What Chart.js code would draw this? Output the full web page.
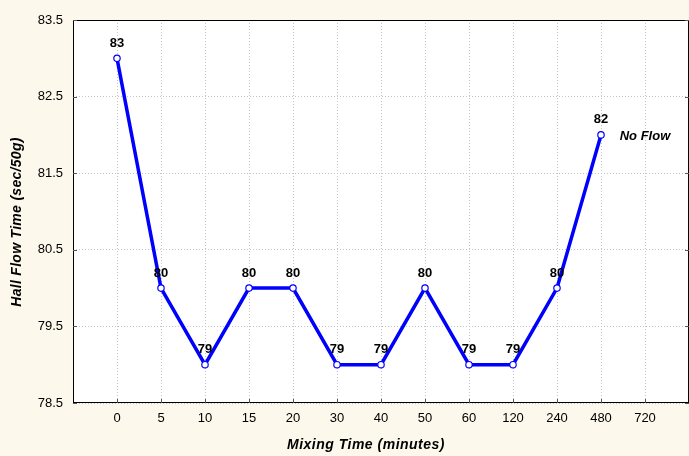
<!DOCTYPE html>
<html lang="en">
<head>
    <meta charset="UTF-8">
    <title>Hall Flow Time</title>
    <script src="https://cdn.jsdelivr.net/npm/chart.js@4"></script>
    <style>
        html, body {
            margin: 0;
            padding: 0;
            background: #fdf8ec;
        }
        #wrap {
            width: 689px;
            height: 456px;
        }
    </style>
</head>
<body>
    <div id="wrap"><canvas id="myChart"></canvas></div>

    <script>
        // chart values
        const categories = ['0', '5', '10', '15', '20', '30', '40', '50', '60', '120', '240', '480', '720'];
        const flowTimes = [83, 80, 79, 80, 80, 79, 79, 80, 79, 79, 80, 82];
        const yTicks = [78.5, 79.5, 80.5, 81.5, 82.5, 83.5];
        const noFlowAt = { category: '720', value: 82 };

        // empty slot before the first and after the last category
        const labels = [''].concat(categories, ['']);
        const values = [null].concat(flowTimes);

        const plotDecor = {
            id: 'plotDecor',
            beforeDraw(chart) {
                const { ctx, chartArea: a } = chart;
                ctx.save();
                ctx.fillStyle = '#ffffff';
                ctx.fillRect(a.left, a.top, a.right - a.left, a.bottom - a.top);
                ctx.restore();
            },
            beforeDatasetsDraw(chart) {
                const { ctx, chartArea: a, scales } = chart;
                ctx.save();
                ctx.setLineDash([]);
                ctx.strokeStyle = '#000000';
                ctx.lineWidth = 1;
                ctx.strokeRect(a.left + 0.5, a.top + 0.5, a.right - a.left - 1, a.bottom - a.top - 1);
                ctx.strokeStyle = '#555555';
                ctx.beginPath();
                yTicks.forEach(v => {
                    const y = Math.round(scales.y.getPixelForValue(v)) + 0.5;
                    ctx.moveTo(a.left, y); ctx.lineTo(a.left + 4, y);
                    ctx.moveTo(a.right, y); ctx.lineTo(a.right - 4, y);
                });
                categories.forEach(c => {
                    const x = Math.round(scales.x.getPixelForValue(labels.indexOf(c))) + 0.5;
                    ctx.moveTo(x, a.bottom); ctx.lineTo(x, a.bottom - 4);
                });
                ctx.stroke();
                ctx.restore();
            },
            afterDatasetsDraw(chart) {
                const { ctx, scales } = chart;
                const meta = chart.getDatasetMeta(0);
                ctx.save();
                ctx.fillStyle = '#000000';
                ctx.font = 'bold 13px "Liberation Sans", Arial, sans-serif';
                ctx.textAlign = 'center';
                ctx.textBaseline = 'middle';
                meta.data.forEach((pt, i) => {
                    if (values[i] == null) return;
                    ctx.fillText(String(values[i]), pt.x, pt.y - 15);
                });
                ctx.font = 'italic bold 13px "Liberation Sans", Arial, sans-serif';
                ctx.fillText('No Flow',
                    scales.x.getPixelForValue(labels.indexOf(noFlowAt.category)),
                    scales.y.getPixelForValue(noFlowAt.value) + 2);
                ctx.restore();
            },
            afterDraw(chart) {
                const { ctx } = chart;
                ctx.save();
                ctx.fillStyle = '#000000';
                ctx.font = 'italic bold 14px "Liberation Sans", Arial, sans-serif';
                ctx.textAlign = 'center';
                ctx.textBaseline = 'middle';
                ctx.letterSpacing = '0.5px';
                ctx.fillText('Mixing Time (minutes)', 366, 445);
                ctx.letterSpacing = '0.3px';
                ctx.translate(17, 222);
                ctx.rotate(-Math.PI / 2);
                ctx.fillText('Hall Flow Time (sec/50g)', 0, 0);
                ctx.restore();
            }
        };

        const ctx = document.getElementById('myChart').getContext('2d');
        new Chart(ctx, {
            type: 'line',
            data: {
                labels: labels,
                datasets: [{
                    data: values,
                    borderColor: '#0000ff',
                    borderWidth: 3.5,
                    tension: 0,
                    pointRadius: 3.2,
                    pointBorderWidth: 1.2,
                    pointBackgroundColor: '#ffffff',
                    pointBorderColor: '#0000ff'
                }]
            },
            options: {
                responsive: true,
                maintainAspectRatio: false,
                animation: false,
                layout: { autoPadding: false, padding: { top: 20, right: 0, left: 0, bottom: 0 } },
                plugins: {
                    legend: { display: false },
                    tooltip: { enabled: false }
                },
                scales: {
                    x: {
                        offset: false,
                        afterFit(scale) {
                            scale.height = 53;
                            scale.paddingLeft = 0;
                            scale.paddingRight = 0;
                        },
                        grid: { color: '#c4c4c4', lineWidth: 1, drawTicks: false },
                        border: { display: false, dash: [1, 2] },
                        ticks: {
                            autoSkip: false,
                            maxRotation: 0,
                            padding: 8,
                            color: '#000000',
                            font: { family: '"Liberation Sans", Arial, sans-serif', size: 13 }
                        }
                    },
                    y: {
                        min: 78.5,
                        max: 83.5,
                        afterFit(scale) { scale.width = 73; },
                        afterBuildTicks(scale) {
                            scale.ticks = yTicks.map(v => ({ value: v }));
                        },
                        grid: { color: '#c4c4c4', lineWidth: 1, drawTicks: false },
                        border: { display: false, dash: [1, 2] },
                        ticks: {
                            padding: 10,
                            color: '#000000',
                            font: { family: '"Liberation Sans", Arial, sans-serif', size: 13 },
                            callback: v => Number(v).toFixed(1)
                        }
                    }
                }
            },
            plugins: [plotDecor]
        });
    </script>
</body>
</html>
